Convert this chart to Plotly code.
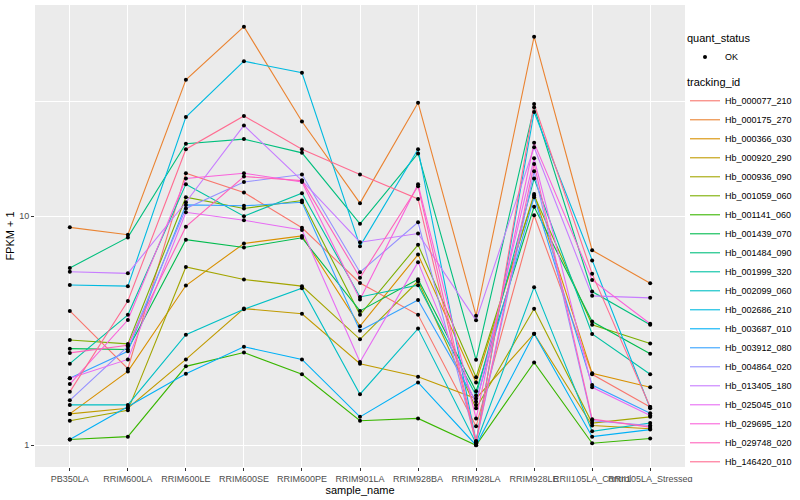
import plotly.graph_objects as go

samples = ["PB350LA", "RRIM600LA", "RRIM600LE", "RRIM600SE", "RRIM600PE", "RRIM901LA",
           "RRIM928BA", "RRIM928LA", "RRIM928LE", "RRII105LA_Control", "RRII105LA_Stressed"]

tracking_ids = ["Hb_000077_210", "Hb_000175_270", "Hb_000366_030", "Hb_000920_290", "Hb_000936_090",
                "Hb_001059_060", "Hb_001141_060", "Hb_001439_070", "Hb_001484_090", "Hb_001999_320",
                "Hb_002099_060", "Hb_002686_210", "Hb_003687_010", "Hb_003912_080", "Hb_004864_020",
                "Hb_013405_180", "Hb_025045_010", "Hb_029695_120", "Hb_029748_020", "Hb_146420_010"]

colors = ["#F8766D", "#EA8331", "#D89000", "#C09B00", "#A3A500", "#7CAE00", "#39B600", "#00BB4E",
          "#00BF7D", "#00C1A3", "#00BFC4", "#00BAE0", "#00B0F6", "#35A2FF", "#9590FF", "#C77CFF",
          "#E76BF3", "#FA62DB", "#FF62BC", "#FF6C91"]

Hb_000077_210 = [3.86, 2.16, 15.4, 12.7, 8.9, 5.11, 3.71, 1.21, 10.1, 2.04, 1.47]
Hb_000175_270 = [8.94, 8.3, 39.4, 67.2, 25.9, 11.4, 31.3, 3.68, 60.8, 7.1, 5.1]
Hb_000366_030 = [1.37, 2.10, 4.98, 7.6, 8.2, 3.31, 6.8, 1.88, 12.5, 2.06, 1.79]
Hb_000920_290 = [1.37, 1.45, 2.37, 3.95, 3.75, 2.27, 1.99, 1.6, 3.07, 1.22, 1.18]
Hb_000936_090 = [1.28, 1.42, 6.0, 5.29, 4.95, 2.9, 5.2, 1.45, 3.94, 1.25, 1.33]
Hb_001059_060 = [2.88, 2.77, 12.1, 10.8, 11.7, 3.71, 7.5, 1.98, 12.3, 3.36, 2.78]
Hb_001141_060 = [1.06, 1.09, 2.21, 2.54, 2.04, 1.28, 1.31, 1.0, 2.30, 1.02, 1.07]
Hb_001439_070 = [2.64, 2.62, 7.9, 7.3, 8.05, 3.86, 5.3, 1.72, 11.0, 3.47, 2.51]
Hb_001484_090 = [5.94, 8.08, 20.7, 21.7, 18.9, 9.26, 18.8, 2.36, 29.9, 4.69, 3.36]
Hb_001999_320 = [2.27, 3.71, 13.8, 10.0, 12.6, 4.44, 5.0, 1.65, 14.6, 3.06, 2.04]
Hb_002099_060 = [1.50, 1.50, 3.04, 3.92, 4.85, 1.67, 3.23, 1.02, 4.9, 1.15, 1.25]
Hb_002686_210 = [5.01, 4.95, 27.1, 47.5, 42.3, 7.4, 19.6, 1.04, 28.5, 6.4, 1.45]
Hb_003687_010 = [1.06, 1.47, 2.05, 2.69, 2.37, 1.33, 1.88, 1.0, 3.07, 1.09, 1.17]
Hb_003912_080 = [1.96, 2.57, 11.2, 11.1, 11.5, 3.16, 4.31, 1.55, 12.1, 1.83, 1.38]
Hb_004864_020 = [1.57, 2.7, 10.8, 14.1, 15.2, 5.69, 9.4, 1.03, 15.7, 1.28, 1.22]
Hb_013405_180 = [5.72, 5.63, 11.5, 24.9, 14.3, 7.7, 8.4, 3.51, 20.0, 4.49, 4.40]
Hb_025045_010 = [1.96, 2.37, 10.4, 9.6, 8.7, 2.31, 6.3, 1.5, 17.9, 1.79, 1.35]
Hb_029695_120 = [1.85, 3.52, 14.6, 15.4, 14.1, 4.33, 13.8, 1.31, 20.9, 5.27, 3.39]
Hb_029748_020 = [2.53, 2.73, 9.0, 14.9, 14.3, 5.39, 13.5, 1.04, 16.9, 1.30, 1.2]
Hb_146420_010 = [1.71, 4.26, 19.6, 27.4, 19.6, 15.2, 11.9, 1.02, 30.9, 5.6, 1.47]

series = [Hb_000077_210, Hb_000175_270, Hb_000366_030, Hb_000920_290, Hb_000936_090,
          Hb_001059_060, Hb_001141_060, Hb_001439_070, Hb_001484_090, Hb_001999_320,
          Hb_002099_060, Hb_002686_210, Hb_003687_010, Hb_003912_080, Hb_004864_020,
          Hb_013405_180, Hb_025045_010, Hb_029695_120, Hb_029748_020, Hb_146420_010]

FONT = "Liberation Sans"

fig = go.Figure()
for name, vals, col in zip(tracking_ids, series, colors):
    fig.add_trace(go.Scatter(x=samples, y=vals, mode="lines", name=name, showlegend=True,
                             line=dict(color=col, width=1.1), legend="legend2"))

all_x = [s for vals in series for s in samples]
all_y = [v for vals in series for v in vals]
fig.add_trace(go.Scatter(x=all_x, y=all_y, mode="markers", name="OK", showlegend=True,
                         marker=dict(color="black", size=4, symbol="circle"),
                         legend="legend"))

fig.update_layout(
    width=800, height=500,
    showlegend=True,
    margin=dict(l=35, r=115, t=5, b=33, autoexpand=False),
    paper_bgcolor="white", plot_bgcolor="#EBEBEB",
    font=dict(family=FONT, color="#000000"),
    xaxis=dict(type="category", categoryorder="array", categoryarray=samples,
               range=[-0.6, 10.6], showgrid=True, gridcolor="white", gridwidth=1.4,
               tickangle=0, ticks="outside", ticklen=3, tickcolor="#333333",
               tickfont=dict(size=9, color="#4D4D4D", family=FONT), automargin=False,
               title=dict(text="sample_name", font=dict(size=11), standoff=2),
               zeroline=False, showline=False),
    yaxis=dict(type="log", range=[-0.095, 1.922], tickvals=[1, 10], ticktext=["1", "10"],
               showgrid=True, gridcolor="white", gridwidth=1.4, automargin=False,
               ticks="outside", ticklen=3, tickcolor="#333333",
               tickfont=dict(size=9, color="#4D4D4D", family=FONT),
               minor=dict(tickvals=[3.1623, 31.623], showgrid=True, gridcolor="white", gridwidth=0.7, ticks=""),
               title=dict(text="FPKM + 1", font=dict(size=11), standoff=2),
               zeroline=False, showline=False),
    legend=dict(title=dict(text="quant_status", font=dict(size=11)), x=1.0, y=0.95,
                xanchor="left", yanchor="top", font=dict(size=9), bgcolor="white",
                itemwidth=30),
    legend2=dict(title=dict(text="tracking_id", font=dict(size=11)), x=1.0, y=0.855,
                 xanchor="left", yanchor="top", font=dict(size=9), bgcolor="white",
                 itemwidth=30, tracegroupgap=0),
)

fig.write_html("out.html", config={"displayModeBar": False},
               post_script="document.body.style.margin='0';")
